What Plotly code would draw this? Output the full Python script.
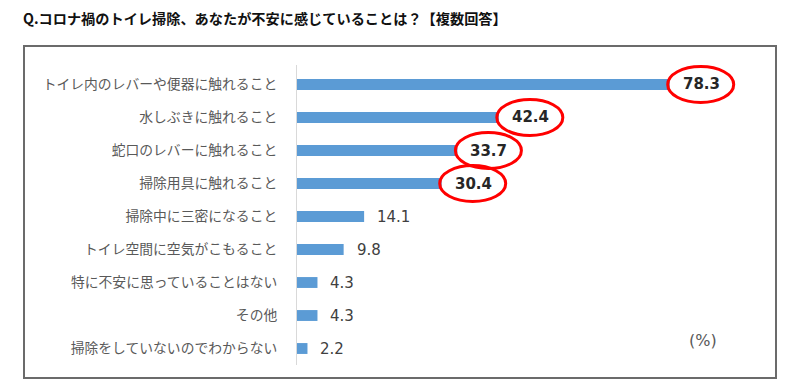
import plotly.graph_objects as go

title_text = "Q.コロナ禍のトイレ掃除、あなたが不安に感じていることは？【複数回答】"
categories = [
    "トイレ内のレバーや便器に触れること",
    "水しぶきに触れること",
    "蛇口のレバーに触れること",
    "掃除用具に触れること",
    "掃除中に三密になること",
    "トイレ空間に空気がこもること",
    "特に不安に思っていることはない",
    "その他",
    "掃除をしていないのでわからない",
]
values = [78.3, 42.4, 33.7, 30.4, 14.1, 9.8, 4.3, 4.3, 2.2]
highlighted = [True, True, True, True, False, False, False, False, False]
unit_label = "(%)"

W, H = 800, 391
CJK = "Noto Sans CJK JP"
NUM = "DejaVu Sans"

fig = go.Figure()
fig.add_trace(go.Bar(
    x=values, y=categories, orientation="h",
    marker=dict(color="#5B9BD5", line=dict(width=0)),
    width=0.33, hoverinfo="skip",
))

annotations = []
shapes = []
for cat, v, hl in zip(categories, values, highlighted):
    annotations.append(dict(
        x=v, y=cat, xref="x", yref="y", text=f"<b>{v}</b>" if hl else f"{v}",
        showarrow=False, xanchor="left", yanchor="middle", xshift=11,
        font=dict(family=NUM, size=15, color="#262626" if hl else "#404040"),
    ))
    if hl:
        shapes.append(dict(
            type="circle", xref="x", yref="y",
            xsizemode="pixel", ysizemode="pixel",
            xanchor=v, yanchor=cat,
            x0=31 - 33, x1=31 + 33, y0=-18, y1=18,
            line=dict(color="#FF0000", width=3), fillcolor="rgba(0,0,0,0)",
            layer="above",
        ))

# title
annotations.append(dict(
    x=21 / W, y=1 - 18 / H, xref="paper", yref="paper", text=f"<b>{title_text}</b>",
    showarrow=False, xanchor="left", yanchor="middle",
    font=dict(family=CJK, size=14.2, color="#111111"),
))
# unit label
annotations.append(dict(
    x=703 / W, y=1 - 340 / H, xref="paper", yref="paper", text=unit_label,
    showarrow=False, xanchor="center", yanchor="middle",
    font=dict(family=NUM, size=16, color="#595959"),
))

# outer frame
shapes.append(dict(
    type="rect", xref="paper", yref="paper",
    x0=24 / W, x1=776 / W, y0=1 - 378 / H, y1=1 - 46 / H,
    line=dict(color="#6b6b6b", width=2), fillcolor="rgba(0,0,0,0)", layer="below",
))

fig.update_layout(
    width=W, height=H,
    margin=dict(l=0, r=0, t=0, b=0),
    paper_bgcolor="white", plot_bgcolor="white",
    showlegend=False,
    xaxis=dict(domain=[297 / W, 773 / W], range=[0, 100], visible=False, fixedrange=True),
    yaxis=dict(
        domain=[1 - 365 / H, 1 - 65 / H], autorange="reversed", type="category",
        showline=True, linecolor="#d9d9d9", linewidth=1, ticks="",
        showgrid=False, zeroline=False, ticklabelstandoff=16,
        tickfont=dict(family=CJK, size=13.8, color="#595959"), fixedrange=True,
    ),
    annotations=annotations, shapes=shapes,
)

fig.write_html(
    "out.html",
    config={"displayModeBar": False},
    post_script="document.body.style.margin='0';document.body.style.overflow='hidden';",
)
